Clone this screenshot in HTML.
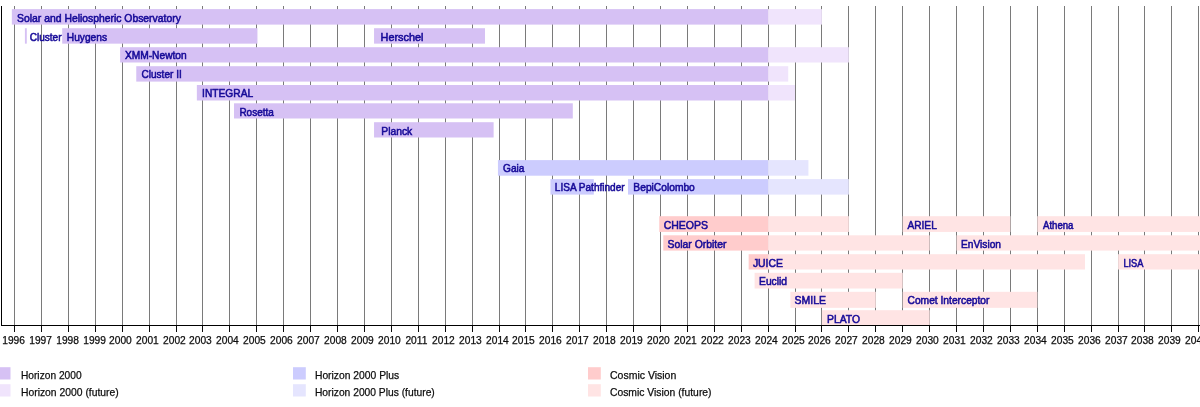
<!DOCTYPE html>
<html><head><meta charset="utf-8"><title>ESA Science Programme timeline</title>
<style>html,body{margin:0;padding:0;background:#fff;overflow:hidden}svg{display:block}text{font-family:"Liberation Sans",Arial,Helvetica,sans-serif}.b{font-size:10.8px;fill:#160a98;stroke:#160a98;stroke-width:.55px}.y{font-size:10.2px;fill:#0d0d0d;stroke:#0d0d0d;stroke-width:.25px;text-anchor:middle}.l{font-size:10.8px;fill:#0d0d0d;stroke:#0d0d0d;stroke-width:.25px}</style></head><body>
<svg width="1200" height="407" viewBox="0 0 1200 407">
<rect width="1200" height="407" fill="#fff"/>
<path d="M14.5 6V325M41.5 6V325M68.5 6V325M95.5 6V325M122.5 6V325M149.5 6V325M176.5 6V325M202.5 6V325M229.5 6V325M256.5 6V325M283.5 6V325M310.5 6V325M337.5 6V325M364.5 6V325M391.5 6V325M418.5 6V325M445.5 6V325M472.5 6V325M499.5 6V325M525.5 6V325M552.5 6V325M579.5 6V325M606.5 6V325M633.5 6V325M660.5 6V325M687.5 6V325M714.5 6V325M741.5 6V325M768.5 6V325M795.5 6V325M821.5 6V325M848.5 6V325M875.5 6V325M902.5 6V325M929.5 6V325M956.5 6V325M983.5 6V325M1010.5 6V325M1037.5 6V325M1064.5 6V325M1091.5 6V325M1118.5 6V325M1144.5 6V325M1171.5 6V325M1198.5 6V325" stroke="#7a7a7a" stroke-width="1" fill="none"/>
<rect x="11.85" y="9.1" width="756.19" height="15.50" fill="#d6c1f4"/>
<rect x="768.04" y="9.1" width="53.86" height="15.50" fill="#f0e4fc"/>
<rect x="24.91" y="28.2" width="1.89" height="15.45" fill="#d6c1f4"/>
<rect x="62.20" y="28.2" width="195.24" height="15.45" fill="#d6c1f4"/>
<rect x="374.05" y="28.2" width="110.95" height="15.45" fill="#d6c1f4"/>
<rect x="120.10" y="47.2" width="647.94" height="15.30" fill="#d6c1f4"/>
<rect x="768.04" y="47.2" width="80.79" height="15.30" fill="#f0e4fc"/>
<rect x="136.26" y="66.2" width="631.78" height="15.40" fill="#d6c1f4"/>
<rect x="768.04" y="66.2" width="20.20" height="15.40" fill="#f0e4fc"/>
<rect x="196.85" y="85.0" width="571.19" height="15.50" fill="#d6c1f4"/>
<rect x="768.04" y="85.0" width="26.93" height="15.50" fill="#f0e4fc"/>
<rect x="234.02" y="103.3" width="338.78" height="15.20" fill="#d6c1f4"/>
<rect x="374.05" y="122.2" width="119.57" height="15.30" fill="#d6c1f4"/>
<rect x="497.93" y="160.1" width="270.11" height="15.60" fill="#ccccfe"/>
<rect x="768.04" y="160.1" width="40.39" height="15.60" fill="#e5e5fe"/>
<rect x="550.45" y="179.1" width="43.36" height="15.50" fill="#ccccfe"/>
<rect x="628.00" y="179.1" width="140.04" height="15.50" fill="#ccccfe"/>
<rect x="768.04" y="179.1" width="80.79" height="15.50" fill="#e5e5fe"/>
<rect x="659.24" y="216.2" width="108.80" height="15.75" fill="#ffcccc"/>
<rect x="768.04" y="216.2" width="80.79" height="15.75" fill="#ffe4e4"/>
<rect x="902.69" y="216.2" width="107.72" height="15.75" fill="#ffe4e4"/>
<rect x="1037.34" y="216.2" width="166.97" height="15.75" fill="#ffe4e4"/>
<rect x="663.28" y="235.3" width="104.76" height="15.30" fill="#ffcccc"/>
<rect x="768.04" y="235.3" width="161.58" height="15.30" fill="#ffe4e4"/>
<rect x="956.55" y="235.3" width="247.76" height="15.30" fill="#ffe4e4"/>
<rect x="748.65" y="254.2" width="19.39" height="15.30" fill="#ffcccc"/>
<rect x="768.04" y="254.2" width="316.97" height="15.30" fill="#ffe4e4"/>
<rect x="1118.13" y="254.2" width="86.18" height="15.30" fill="#ffe4e4"/>
<rect x="754.58" y="272.8" width="148.11" height="15.70" fill="#ffe4e4"/>
<rect x="790.39" y="291.8" width="85.37" height="16.05" fill="#ffe4e4"/>
<rect x="902.69" y="291.8" width="134.65" height="16.05" fill="#ffe4e4"/>
<rect x="821.90" y="310.2" width="107.72" height="15.00" fill="#ffe4e4"/>
<path d="M1.5 6V326M1 325.5H1200" stroke="#000" stroke-width="1" fill="none"/>
<path d="M14.5 326V332M41.5 326V332M68.5 326V332M95.5 326V332M122.5 326V332M149.5 326V332M176.5 326V332M202.5 326V332M229.5 326V332M256.5 326V332M283.5 326V332M310.5 326V332M337.5 326V332M364.5 326V332M391.5 326V332M418.5 326V332M445.5 326V332M472.5 326V332M499.5 326V332M525.5 326V332M552.5 326V332M579.5 326V332M606.5 326V332M633.5 326V332M660.5 326V332M687.5 326V332M714.5 326V332M741.5 326V332M768.5 326V332M795.5 326V332M821.5 326V332M848.5 326V332M875.5 326V332M902.5 326V332M929.5 326V332M956.5 326V332M983.5 326V332M1010.5 326V332M1037.5 326V332M1064.5 326V332M1091.5 326V332M1118.5 326V332M1144.5 326V332M1171.5 326V332M1198.5 326V332" stroke="#0a0a0a" stroke-width="1" fill="none"/>
<text class="b" x="17.12" y="21.85" textLength="163.71" lengthAdjust="spacingAndGlyphs">Solar and Heliospheric Observatory</text>
<text class="b" x="29.67" y="40.85" textLength="31.88" lengthAdjust="spacingAndGlyphs">Cluster</text>
<text class="b" x="66.79" y="40.85" textLength="40.21" lengthAdjust="spacingAndGlyphs">Huygens</text>
<text class="b" x="380.58" y="40.85" textLength="42.92" lengthAdjust="spacingAndGlyphs">Herschel</text>
<text class="b" x="124.90" y="58.85" textLength="61.81" lengthAdjust="spacingAndGlyphs">XMM-Newton</text>
<text class="b" x="141.53" y="77.85" textLength="40.20" lengthAdjust="spacingAndGlyphs">Cluster II</text>
<text class="b" x="202.11" y="96.85" textLength="51.01" lengthAdjust="spacingAndGlyphs">INTEGRAL</text>
<text class="b" x="239.40" y="115.85" textLength="34.47" lengthAdjust="spacingAndGlyphs">Rosetta</text>
<text class="b" x="381.30" y="134.85" textLength="30.93" lengthAdjust="spacingAndGlyphs">Planck</text>
<text class="b" x="503.01" y="171.85" textLength="21.41" lengthAdjust="spacingAndGlyphs">Gaia</text>
<text class="b" x="554.82" y="190.85" textLength="69.77" lengthAdjust="spacingAndGlyphs">LISA Pathfinder</text>
<text class="b" x="633.37" y="190.85" textLength="61.46" lengthAdjust="spacingAndGlyphs">BepiColombo</text>
<text class="b" x="663.64" y="228.85" textLength="44.36" lengthAdjust="spacingAndGlyphs">CHEOPS</text>
<text class="b" x="907.40" y="228.85" textLength="29.43" lengthAdjust="spacingAndGlyphs">ARIEL</text>
<text class="b" x="1043.01" y="228.85" textLength="30.44" lengthAdjust="spacingAndGlyphs">Athena</text>
<text class="b" x="667.54" y="247.85" textLength="58.96" lengthAdjust="spacingAndGlyphs">Solar Orbiter</text>
<text class="b" x="961.05" y="247.85" textLength="39.97" lengthAdjust="spacingAndGlyphs">EnVision</text>
<text class="b" x="752.89" y="266.85" textLength="30.11" lengthAdjust="spacingAndGlyphs">JUICE</text>
<text class="b" x="1123.38" y="266.85" textLength="20.05" lengthAdjust="spacingAndGlyphs">LISA</text>
<text class="b" x="759.02" y="284.85" textLength="28.05" lengthAdjust="spacingAndGlyphs">Euclid</text>
<text class="b" x="794.54" y="303.85" textLength="31.46" lengthAdjust="spacingAndGlyphs">SMILE</text>
<text class="b" x="907.53" y="303.85" textLength="81.97" lengthAdjust="spacingAndGlyphs">Comet Interceptor</text>
<text class="b" x="827.00" y="322.85" textLength="33.00" lengthAdjust="spacingAndGlyphs">PLATO</text>
<text class="y" transform="translate(13.60 343.75) scale(1 1)">1996</text>
<text class="y" transform="translate(40.60 343.75) scale(1 1)">1997</text>
<text class="y" transform="translate(67.60 343.75) scale(1 1)">1998</text>
<text class="y" transform="translate(94.60 343.75) scale(1 1)">1999</text>
<text class="y" transform="translate(120.40 343.75) scale(1 1)">2000</text>
<text class="y" transform="translate(147.40 343.75) scale(1 1)">2001</text>
<text class="y" transform="translate(174.40 343.75) scale(1 1)">2002</text>
<text class="y" transform="translate(200.40 343.75) scale(1 1)">2003</text>
<text class="y" transform="translate(227.40 343.75) scale(1 1)">2004</text>
<text class="y" transform="translate(254.40 343.75) scale(1 1)">2005</text>
<text class="y" transform="translate(281.40 343.75) scale(1 1)">2006</text>
<text class="y" transform="translate(308.40 343.75) scale(1 1)">2007</text>
<text class="y" transform="translate(335.40 343.75) scale(1 1)">2008</text>
<text class="y" transform="translate(362.40 343.75) scale(1 1)">2009</text>
<text class="y" transform="translate(389.40 343.75) scale(1 1)">2010</text>
<text class="y" transform="translate(416.40 343.75) scale(1 1)">2011</text>
<text class="y" transform="translate(443.40 343.75) scale(1 1)">2012</text>
<text class="y" transform="translate(470.40 343.75) scale(1 1)">2013</text>
<text class="y" transform="translate(497.40 343.75) scale(1 1)">2014</text>
<text class="y" transform="translate(523.40 343.75) scale(1 1)">2015</text>
<text class="y" transform="translate(550.40 343.75) scale(1 1)">2016</text>
<text class="y" transform="translate(577.40 343.75) scale(1 1)">2017</text>
<text class="y" transform="translate(604.40 343.75) scale(1 1)">2018</text>
<text class="y" transform="translate(631.40 343.75) scale(1 1)">2019</text>
<text class="y" transform="translate(658.40 343.75) scale(1 1)">2020</text>
<text class="y" transform="translate(685.40 343.75) scale(1 1)">2021</text>
<text class="y" transform="translate(712.40 343.75) scale(1 1)">2022</text>
<text class="y" transform="translate(739.40 343.75) scale(1 1)">2023</text>
<text class="y" transform="translate(766.40 343.75) scale(1 1)">2024</text>
<text class="y" transform="translate(793.40 343.75) scale(1 1)">2025</text>
<text class="y" transform="translate(819.40 343.75) scale(1 1)">2026</text>
<text class="y" transform="translate(846.40 343.75) scale(1 1)">2027</text>
<text class="y" transform="translate(873.40 343.75) scale(1 1)">2028</text>
<text class="y" transform="translate(900.40 343.75) scale(1 1)">2029</text>
<text class="y" transform="translate(927.40 343.75) scale(1 1)">2030</text>
<text class="y" transform="translate(954.40 343.75) scale(1 1)">2031</text>
<text class="y" transform="translate(981.40 343.75) scale(1 1)">2032</text>
<text class="y" transform="translate(1008.40 343.75) scale(1 1)">2033</text>
<text class="y" transform="translate(1035.40 343.75) scale(1 1)">2034</text>
<text class="y" transform="translate(1062.40 343.75) scale(1 1)">2035</text>
<text class="y" transform="translate(1089.40 343.75) scale(1 1)">2036</text>
<text class="y" transform="translate(1116.40 343.75) scale(1 1)">2037</text>
<text class="y" transform="translate(1142.40 343.75) scale(1 1)">2038</text>
<text class="y" transform="translate(1169.40 343.75) scale(1 1)">2039</text>
<text class="y" transform="translate(1196.40 343.75) scale(1 1)">2040</text>
<rect x="-2.3" y="367.2" width="12.8" height="12.3" fill="#d6c1f4"/>
<rect x="-2.3" y="384.2" width="12.8" height="12.3" fill="#f0e4fc"/>
<rect x="293" y="367.2" width="12.8" height="12.3" fill="#ccccfe"/>
<rect x="293" y="384.2" width="12.8" height="12.3" fill="#e5e5fe"/>
<rect x="588" y="367.2" width="12.8" height="12.3" fill="#ffcccc"/>
<rect x="588" y="384.2" width="12.8" height="12.3" fill="#ffe4e4"/>
<text class="l" x="20.96" y="379.30" textLength="60.62" lengthAdjust="spacingAndGlyphs">Horizon 2000</text>
<text class="l" x="20.96" y="396.20" textLength="97.80" lengthAdjust="spacingAndGlyphs">Horizon 2000 (future)</text>
<text class="l" x="314.95" y="379.30" textLength="84.30" lengthAdjust="spacingAndGlyphs">Horizon 2000 Plus</text>
<text class="l" x="314.95" y="396.20" textLength="119.84" lengthAdjust="spacingAndGlyphs">Horizon 2000 Plus (future)</text>
<text class="l" x="609.97" y="379.30" textLength="66.33" lengthAdjust="spacingAndGlyphs">Cosmic Vision</text>
<text class="l" x="609.97" y="396.20" textLength="101.56" lengthAdjust="spacingAndGlyphs">Cosmic Vision (future)</text>
</svg></body></html>
